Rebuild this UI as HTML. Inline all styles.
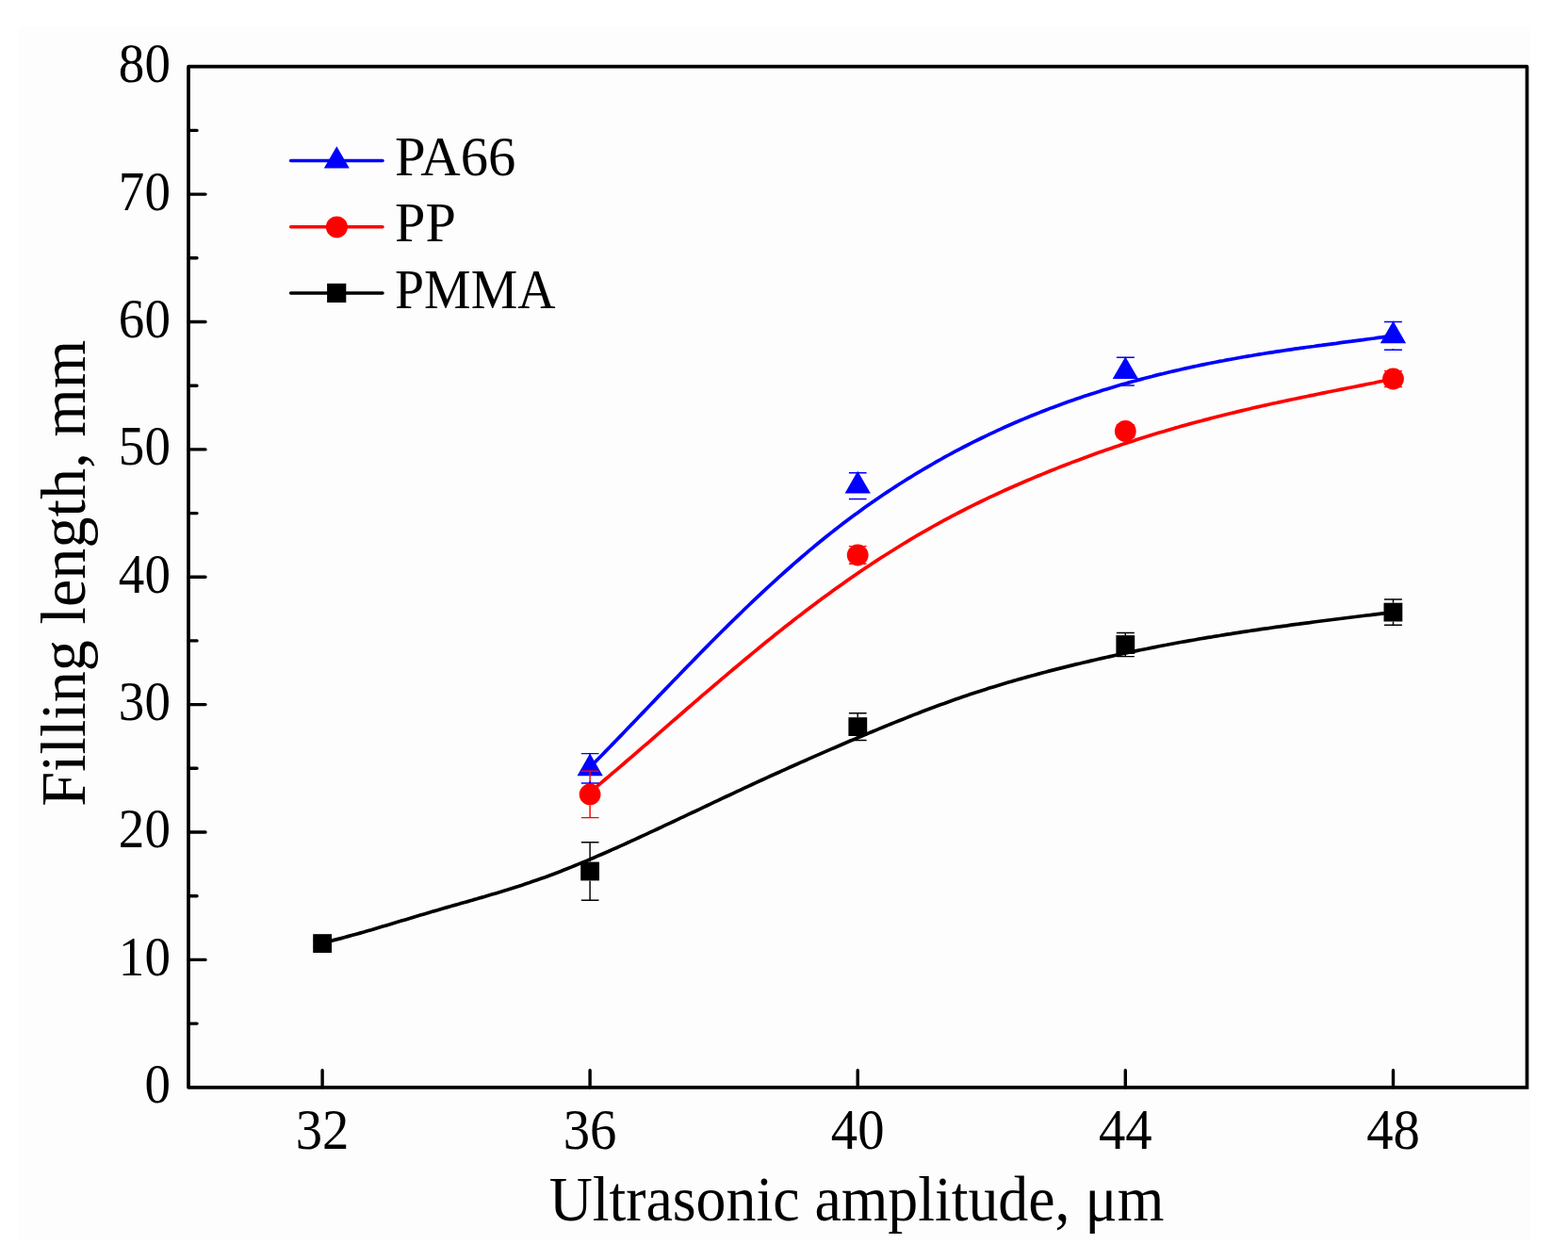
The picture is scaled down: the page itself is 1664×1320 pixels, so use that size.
<!DOCTYPE html>
<html><head><meta charset="utf-8"><title>Filling length vs ultrasonic amplitude</title>
<style>html,body{margin:0;padding:0;background:#fff;}svg{display:block;}</style></head>
<body>
<svg width="1664" height="1320" viewBox="0 0 1664 1320">
<rect x="0" y="0" width="1664" height="1320" fill="#ffffff"/>
<rect x="20" y="28" width="1604" height="1288" fill="#fdfdfd"/>
<path d="M626.3,814.0 L630.3,809.9 L634.3,805.8 L638.3,801.7 L642.3,797.6 L646.3,793.5 L650.3,789.4 L654.3,785.3 L658.3,781.1 L662.3,777.0 L666.3,772.8 L670.3,768.6 L674.3,764.5 L678.3,760.3 L682.3,756.1 L686.3,752.0 L690.3,747.8 L694.3,743.6 L698.3,739.4 L702.3,735.3 L706.3,731.1 L710.3,727.0 L714.3,722.8 L718.3,718.7 L722.3,714.5 L726.3,710.4 L730.3,706.3 L734.3,702.2 L738.3,698.1 L742.3,694.0 L746.3,689.9 L750.3,685.9 L754.3,681.8 L758.3,677.8 L762.3,673.8 L766.3,669.8 L770.3,665.9 L774.3,661.9 L778.3,658.0 L782.3,654.1 L786.3,650.2 L790.3,646.3 L794.3,642.5 L798.3,638.7 L802.3,634.9 L806.3,631.1 L810.3,627.4 L814.3,623.7 L818.3,620.0 L822.3,616.3 L826.3,612.7 L830.3,609.1 L834.3,605.5 L838.3,602.0 L842.3,598.4 L846.3,595.0 L850.3,591.5 L854.3,588.1 L858.3,584.7 L862.3,581.3 L866.3,578.0 L870.3,574.7 L874.3,571.5 L878.3,568.3 L882.3,565.1 L886.3,562.0 L890.3,558.9 L894.3,555.8 L898.3,552.8 L902.3,549.8 L906.3,546.8 L910.3,543.9 L914.3,541.0 L918.3,538.1 L922.3,535.3 L926.3,532.5 L930.3,529.7 L934.3,527.0 L938.3,524.3 L942.3,521.6 L946.3,519.0 L950.3,516.4 L954.3,513.8 L958.3,511.3 L962.3,508.7 L966.3,506.3 L970.3,503.8 L974.3,501.4 L978.3,499.0 L982.3,496.6 L986.3,494.3 L990.3,492.0 L994.3,489.7 L998.3,487.5 L1002.3,485.2 L1006.3,483.0 L1010.3,480.9 L1014.3,478.7 L1018.3,476.6 L1022.3,474.5 L1026.3,472.5 L1030.3,470.4 L1034.3,468.4 L1038.3,466.5 L1042.3,464.5 L1046.3,462.6 L1050.3,460.7 L1054.3,458.8 L1058.3,456.9 L1062.3,455.1 L1066.3,453.3 L1070.3,451.5 L1074.3,449.8 L1078.3,448.0 L1082.3,446.3 L1086.3,444.6 L1090.3,443.0 L1094.3,441.3 L1098.3,439.7 L1102.3,438.1 L1106.3,436.5 L1110.3,435.0 L1114.3,433.4 L1118.3,431.9 L1122.3,430.4 L1126.3,429.0 L1130.3,427.5 L1134.3,426.1 L1138.3,424.7 L1142.3,423.3 L1146.3,421.9 L1150.3,420.6 L1154.3,419.3 L1158.3,417.9 L1162.3,416.7 L1166.3,415.4 L1170.3,414.1 L1174.3,412.9 L1178.3,411.7 L1182.3,410.5 L1186.3,409.3 L1190.3,408.1 L1194.3,407.0 L1198.3,405.9 L1202.3,404.8 L1206.3,403.7 L1210.3,402.6 L1214.3,401.5 L1218.3,400.5 L1222.3,399.5 L1226.3,398.4 L1230.3,397.4 L1234.3,396.5 L1238.3,395.5 L1242.3,394.5 L1246.3,393.6 L1250.3,392.7 L1254.3,391.8 L1258.3,390.9 L1262.3,390.0 L1266.3,389.1 L1270.3,388.3 L1274.3,387.4 L1278.3,386.6 L1282.3,385.8 L1286.3,385.0 L1290.3,384.2 L1294.3,383.4 L1298.3,382.7 L1302.3,381.9 L1306.3,381.2 L1310.3,380.5 L1314.3,379.7 L1318.3,379.0 L1322.3,378.3 L1326.3,377.7 L1330.3,377.0 L1334.3,376.3 L1338.3,375.7 L1342.3,375.0 L1346.3,374.4 L1350.3,373.8 L1354.3,373.2 L1358.3,372.6 L1362.3,372.0 L1366.3,371.4 L1370.3,370.8 L1374.3,370.2 L1378.3,369.7 L1382.3,369.1 L1386.3,368.5 L1390.3,368.0 L1394.3,367.5 L1398.3,366.9 L1402.3,366.4 L1406.3,365.8 L1410.3,365.3 L1414.3,364.8 L1418.3,364.3 L1422.3,363.7 L1426.3,363.2 L1430.3,362.7 L1434.3,362.2 L1438.3,361.6 L1442.3,361.1 L1446.3,360.6 L1450.3,360.0 L1454.3,359.5 L1458.3,359.0 L1462.3,358.4 L1466.3,357.9 L1470.3,357.3 L1474.3,356.8 L1478.3,356.2 L1478.5,356.2" stroke="#0000ff" stroke-width="3.7" fill="none" stroke-linejoin="round"/>
<path d="M626.3,840.5 L630.3,837.2 L634.3,833.8 L638.3,830.4 L642.3,827.0 L646.3,823.6 L650.3,820.2 L654.3,816.8 L658.3,813.4 L662.3,810.0 L666.3,806.5 L670.3,803.1 L674.3,799.6 L678.3,796.2 L682.3,792.7 L686.3,789.3 L690.3,785.8 L694.3,782.3 L698.3,778.8 L702.3,775.4 L706.3,771.9 L710.3,768.4 L714.3,764.9 L718.3,761.5 L722.3,758.0 L726.3,754.5 L730.3,751.0 L734.3,747.6 L738.3,744.1 L742.3,740.7 L746.3,737.2 L750.3,733.8 L754.3,730.4 L758.3,727.0 L762.3,723.6 L766.3,720.2 L770.3,716.8 L774.3,713.4 L778.3,710.0 L782.3,706.7 L786.3,703.3 L790.3,700.0 L794.3,696.7 L798.3,693.4 L802.3,690.1 L806.3,686.8 L810.3,683.5 L814.3,680.3 L818.3,677.1 L822.3,673.8 L826.3,670.6 L830.3,667.5 L834.3,664.3 L838.3,661.2 L842.3,658.0 L846.3,654.9 L850.3,651.9 L854.3,648.8 L858.3,645.7 L862.3,642.7 L866.3,639.7 L870.3,636.7 L874.3,633.8 L878.3,630.9 L882.3,628.0 L886.3,625.1 L890.3,622.2 L894.3,619.4 L898.3,616.6 L902.3,613.8 L906.3,611.0 L910.3,608.3 L914.3,605.5 L918.3,602.8 L922.3,600.2 L926.3,597.5 L930.3,594.9 L934.3,592.3 L938.3,589.7 L942.3,587.2 L946.3,584.7 L950.3,582.2 L954.3,579.7 L958.3,577.2 L962.3,574.8 L966.3,572.4 L970.3,570.0 L974.3,567.7 L978.3,565.4 L982.3,563.1 L986.3,560.8 L990.3,558.5 L994.3,556.3 L998.3,554.1 L1002.3,551.9 L1006.3,549.8 L1010.3,547.7 L1014.3,545.6 L1018.3,543.5 L1022.3,541.5 L1026.3,539.4 L1030.3,537.4 L1034.3,535.4 L1038.3,533.5 L1042.3,531.5 L1046.3,529.6 L1050.3,527.7 L1054.3,525.8 L1058.3,524.0 L1062.3,522.1 L1066.3,520.3 L1070.3,518.5 L1074.3,516.7 L1078.3,515.0 L1082.3,513.2 L1086.3,511.5 L1090.3,509.8 L1094.3,508.1 L1098.3,506.4 L1102.3,504.7 L1106.3,503.1 L1110.3,501.5 L1114.3,499.8 L1118.3,498.2 L1122.3,496.6 L1126.3,495.1 L1130.3,493.5 L1134.3,492.0 L1138.3,490.4 L1142.3,488.9 L1146.3,487.4 L1150.3,485.9 L1154.3,484.5 L1158.3,483.0 L1162.3,481.5 L1166.3,480.1 L1170.3,478.7 L1174.3,477.3 L1178.3,475.9 L1182.3,474.5 L1186.3,473.2 L1190.3,471.8 L1194.3,470.5 L1198.3,469.2 L1202.3,467.9 L1206.3,466.6 L1210.3,465.3 L1214.3,464.0 L1218.3,462.8 L1222.3,461.5 L1226.3,460.3 L1230.3,459.1 L1234.3,457.9 L1238.3,456.7 L1242.3,455.6 L1246.3,454.4 L1250.3,453.3 L1254.3,452.1 L1258.3,451.0 L1262.3,449.9 L1266.3,448.8 L1270.3,447.7 L1274.3,446.7 L1278.3,445.6 L1282.3,444.6 L1286.3,443.5 L1290.3,442.5 L1294.3,441.5 L1298.3,440.5 L1302.3,439.5 L1306.3,438.5 L1310.3,437.6 L1314.3,436.6 L1318.3,435.6 L1322.3,434.7 L1326.3,433.8 L1330.3,432.8 L1334.3,431.9 L1338.3,431.0 L1342.3,430.1 L1346.3,429.2 L1350.3,428.3 L1354.3,427.5 L1358.3,426.6 L1362.3,425.7 L1366.3,424.9 L1370.3,424.0 L1374.3,423.2 L1378.3,422.4 L1382.3,421.5 L1386.3,420.7 L1390.3,419.9 L1394.3,419.1 L1398.3,418.2 L1402.3,417.4 L1406.3,416.6 L1410.3,415.8 L1414.3,415.0 L1418.3,414.2 L1422.3,413.4 L1426.3,412.6 L1430.3,411.8 L1434.3,411.0 L1438.3,410.2 L1442.3,409.4 L1446.3,408.6 L1450.3,407.8 L1454.3,407.0 L1458.3,406.2 L1462.3,405.3 L1466.3,404.5 L1470.3,403.7 L1474.3,402.9 L1478.3,402.0 L1478.5,402.0" stroke="#ff0000" stroke-width="3.7" fill="none" stroke-linejoin="round"/>
<path d="M342.0,1000.5 L346.0,999.6 L350.0,998.6 L354.0,997.6 L358.0,996.6 L362.0,995.6 L366.0,994.5 L370.0,993.4 L374.0,992.3 L378.0,991.2 L382.0,990.1 L386.0,989.0 L390.0,987.8 L394.0,986.7 L398.0,985.5 L402.0,984.3 L406.0,983.1 L410.0,981.9 L414.0,980.7 L418.0,979.5 L422.0,978.3 L426.0,977.1 L430.0,975.9 L434.0,974.7 L438.0,973.5 L442.0,972.3 L446.0,971.1 L450.0,969.9 L454.0,968.7 L458.0,967.5 L462.0,966.4 L466.0,965.2 L470.0,964.0 L474.0,962.9 L478.0,961.8 L482.0,960.6 L486.0,959.5 L490.0,958.3 L494.0,957.2 L498.0,956.1 L502.0,954.9 L506.0,953.8 L510.0,952.6 L514.0,951.5 L518.0,950.3 L522.0,949.1 L526.0,947.9 L530.0,946.7 L534.0,945.5 L538.0,944.3 L542.0,943.0 L546.0,941.7 L550.0,940.5 L554.0,939.2 L558.0,937.8 L562.0,936.5 L566.0,935.1 L570.0,933.7 L574.0,932.3 L578.0,930.9 L582.0,929.4 L586.0,927.9 L590.0,926.4 L594.0,924.9 L598.0,923.3 L602.0,921.7 L606.0,920.1 L610.0,918.5 L614.0,916.9 L618.0,915.2 L622.0,913.6 L626.0,911.9 L630.0,910.2 L634.0,908.4 L638.0,906.7 L642.0,905.0 L646.0,903.2 L650.0,901.4 L654.0,899.7 L658.0,897.9 L662.0,896.1 L666.0,894.3 L670.0,892.4 L674.0,890.6 L678.0,888.8 L682.0,886.9 L686.0,885.1 L690.0,883.2 L694.0,881.4 L698.0,879.5 L702.0,877.6 L706.0,875.7 L710.0,873.9 L714.0,872.0 L718.0,870.1 L722.0,868.2 L726.0,866.3 L730.0,864.4 L734.0,862.5 L738.0,860.7 L742.0,858.8 L746.0,856.9 L750.0,855.0 L754.0,853.1 L758.0,851.2 L762.0,849.3 L766.0,847.4 L770.0,845.5 L774.0,843.7 L778.0,841.8 L782.0,839.9 L786.0,838.1 L790.0,836.2 L794.0,834.3 L798.0,832.5 L802.0,830.6 L806.0,828.8 L810.0,827.0 L814.0,825.1 L818.0,823.3 L822.0,821.5 L826.0,819.7 L830.0,817.9 L834.0,816.1 L838.0,814.3 L842.0,812.5 L846.0,810.7 L850.0,808.9 L854.0,807.2 L858.0,805.4 L862.0,803.6 L866.0,801.9 L870.0,800.1 L874.0,798.4 L878.0,796.6 L882.0,794.9 L886.0,793.2 L890.0,791.5 L894.0,789.7 L898.0,788.0 L902.0,786.3 L906.0,784.6 L910.0,782.9 L914.0,781.2 L918.0,779.6 L922.0,777.9 L926.0,776.2 L930.0,774.6 L934.0,772.9 L938.0,771.3 L942.0,769.6 L946.0,768.0 L950.0,766.4 L954.0,764.8 L958.0,763.2 L962.0,761.6 L966.0,760.0 L970.0,758.4 L974.0,756.9 L978.0,755.3 L982.0,753.8 L986.0,752.3 L990.0,750.8 L994.0,749.3 L998.0,747.8 L1002.0,746.4 L1006.0,744.9 L1010.0,743.5 L1014.0,742.1 L1018.0,740.7 L1022.0,739.3 L1026.0,737.9 L1030.0,736.6 L1034.0,735.3 L1038.0,734.0 L1042.0,732.7 L1046.0,731.4 L1050.0,730.1 L1054.0,728.9 L1058.0,727.7 L1062.0,726.5 L1066.0,725.3 L1070.0,724.1 L1074.0,722.9 L1078.0,721.8 L1082.0,720.6 L1086.0,719.5 L1090.0,718.4 L1094.0,717.3 L1098.0,716.2 L1102.0,715.1 L1106.0,714.0 L1110.0,713.0 L1114.0,711.9 L1118.0,710.9 L1122.0,709.9 L1126.0,708.9 L1130.0,707.9 L1134.0,706.9 L1138.0,705.9 L1142.0,704.9 L1146.0,704.0 L1150.0,703.0 L1154.0,702.1 L1158.0,701.1 L1162.0,700.2 L1166.0,699.3 L1170.0,698.4 L1174.0,697.5 L1178.0,696.6 L1182.0,695.7 L1186.0,694.8 L1190.0,694.0 L1194.0,693.1 L1198.0,692.3 L1202.0,691.4 L1206.0,690.6 L1210.0,689.8 L1214.0,689.0 L1218.0,688.2 L1222.0,687.4 L1226.0,686.6 L1230.0,685.8 L1234.0,685.0 L1238.0,684.3 L1242.0,683.5 L1246.0,682.8 L1250.0,682.0 L1254.0,681.3 L1258.0,680.6 L1262.0,679.9 L1266.0,679.2 L1270.0,678.5 L1274.0,677.8 L1278.0,677.1 L1282.0,676.4 L1286.0,675.8 L1290.0,675.1 L1294.0,674.5 L1298.0,673.8 L1302.0,673.2 L1306.0,672.6 L1310.0,671.9 L1314.0,671.3 L1318.0,670.7 L1322.0,670.1 L1326.0,669.5 L1330.0,668.9 L1334.0,668.3 L1338.0,667.7 L1342.0,667.1 L1346.0,666.6 L1350.0,666.0 L1354.0,665.4 L1358.0,664.9 L1362.0,664.3 L1366.0,663.8 L1370.0,663.2 L1374.0,662.7 L1378.0,662.2 L1382.0,661.6 L1386.0,661.1 L1390.0,660.6 L1394.0,660.0 L1398.0,659.5 L1402.0,659.0 L1406.0,658.5 L1410.0,658.0 L1414.0,657.5 L1418.0,657.0 L1422.0,656.5 L1426.0,656.0 L1430.0,655.5 L1434.0,655.0 L1438.0,654.5 L1442.0,654.0 L1446.0,653.5 L1450.0,653.0 L1454.0,652.6 L1458.0,652.1 L1462.0,651.6 L1466.0,651.1 L1470.0,650.6 L1474.0,650.1 L1478.0,649.7 L1478.5,649.6" stroke="#000000" stroke-width="3.7" fill="none" stroke-linejoin="round"/>
<path d="M626.1,799.6L639.8,823.2L612.5,823.2Z" fill="#0000ff"/>
<path d="M910.2,499.8L923.9,523.5L896.6,523.5Z" fill="#0000ff"/>
<path d="M1194.3,378.4L1208.0,402.0L1180.7,402.0Z" fill="#0000ff"/>
<path d="M1478.5,340.6L1492.1,364.2L1464.8,364.2Z" fill="#0000ff"/>
<circle cx="626.1" cy="843.0" r="11.40" fill="#ff0000"/>
<circle cx="910.2" cy="589.0" r="11.40" fill="#ff0000"/>
<circle cx="1194.3" cy="457.5" r="11.40" fill="#ff0000"/>
<circle cx="1478.5" cy="402.0" r="11.40" fill="#ff0000"/>
<rect x="332.2" y="991.2" width="19.8" height="19.8" fill="#000000"/>
<rect x="616.2" y="914.6" width="19.8" height="19.8" fill="#000000"/>
<rect x="900.4" y="761.2" width="19.8" height="19.8" fill="#000000"/>
<rect x="1184.4" y="674.1" width="19.8" height="19.8" fill="#000000"/>
<rect x="1468.5" y="639.7" width="19.8" height="19.8" fill="#000000"/>
<path d="M332.7,997.0H351.4M332.7,1005.1H351.4" stroke="#000000" stroke-width="1.45" fill="none"/>
<path d="M616.8,893.7H635.5M616.8,955.2H635.5M626.1,893.7V914.6M626.1,934.4V955.2" stroke="#000000" stroke-width="1.45" fill="none"/>
<path d="M900.9,756.7H919.6M900.9,785.4H919.6M910.2,756.7V761.2M910.2,781.0V785.4" stroke="#000000" stroke-width="1.45" fill="none"/>
<path d="M1184.9,671.4H1203.8M1184.9,696.6H1203.8M1194.3,671.4V674.1M1194.3,693.9V696.6" stroke="#000000" stroke-width="1.45" fill="none"/>
<path d="M1469.0,635.9H1487.9M1469.0,663.3H1487.9M1478.5,635.9V639.7M1478.5,659.5V663.3" stroke="#000000" stroke-width="1.45" fill="none"/>
<path d="M616.8,818.3H635.5M616.8,867.6H635.5M626.1,818.3V831.6M626.1,854.4V867.6" stroke="#ff0000" stroke-width="1.45" fill="none"/>
<path d="M900.9,579.6H919.6M900.9,598.3H919.6" stroke="#ff0000" stroke-width="1.45" fill="none"/>
<path d="M1184.9,450.7H1203.8M1184.9,464.3H1203.8" stroke="#ff0000" stroke-width="1.45" fill="none"/>
<path d="M1469.0,393.6H1487.9M1469.0,410.4H1487.9" stroke="#ff0000" stroke-width="1.45" fill="none"/>
<path d="M616.8,799.6H635.5M616.8,831.0H635.5M626.1,799.6V801.8M626.1,828.8V831.0" stroke="#0000ff" stroke-width="1.45" fill="none"/>
<path d="M900.9,501.8H919.6M900.9,529.4H919.6M910.2,501.8V502.1M910.2,529.1V529.4" stroke="#0000ff" stroke-width="1.45" fill="none"/>
<path d="M1184.9,379.2H1203.8M1184.9,409.0H1203.8M1194.3,379.2V380.6M1194.3,407.6V409.0" stroke="#0000ff" stroke-width="1.45" fill="none"/>
<path d="M1469.0,341.5H1487.9M1469.0,371.3H1487.9M1478.5,341.5V342.9M1478.5,369.9V371.3" stroke="#0000ff" stroke-width="1.45" fill="none"/>
<path d="M1620.5,1153.8H200.0V70.7H1620.5V1153.8" stroke="#000" stroke-width="3.7" fill="none" stroke-linejoin="round" stroke-linecap="square"/>
<path d="M200.0,1018.4H218.0M200.0,883.0H218.0M200.0,747.6H218.0M200.0,612.2H218.0M200.0,476.9H218.0M200.0,341.5H218.0M200.0,206.1H218.0M200.0,1086.1H209.0M200.0,950.7H209.0M200.0,815.3H209.0M200.0,679.9H209.0M200.0,544.6H209.0M200.0,409.2H209.0M200.0,273.8H209.0M200.0,138.4H209.0M342.1,1153.8V1135.8M626.1,1153.8V1135.8M910.2,1153.8V1135.8M1194.3,1153.8V1135.8M1478.5,1153.8V1135.8" stroke="#000" stroke-width="3.4" stroke-linecap="round" fill="none"/>
<g font-family="'Liberation Serif', 'Times New Roman', serif" font-size="58.8" fill="#000"><text transform="translate(180.9,1170.2) scale(0.936,1)" text-anchor="end">0</text><text transform="translate(180.9,1034.8) scale(0.936,1)" text-anchor="end">10</text><text transform="translate(180.9,899.4) scale(0.936,1)" text-anchor="end">20</text><text transform="translate(180.9,764.0) scale(0.936,1)" text-anchor="end">30</text><text transform="translate(180.9,628.6) scale(0.936,1)" text-anchor="end">40</text><text transform="translate(180.9,493.3) scale(0.936,1)" text-anchor="end">50</text><text transform="translate(180.9,357.9) scale(0.936,1)" text-anchor="end">60</text><text transform="translate(180.9,222.5) scale(0.936,1)" text-anchor="end">70</text><text transform="translate(180.9,87.1) scale(0.936,1)" text-anchor="end">80</text></g>
<g font-family="'Liberation Serif', 'Times New Roman', serif" font-size="60.3" fill="#000"><text transform="translate(342.1,1218.8) scale(0.94,1)" text-anchor="middle">32</text><text transform="translate(626.1,1218.8) scale(0.94,1)" text-anchor="middle">36</text><text transform="translate(910.2,1218.8) scale(0.94,1)" text-anchor="middle">40</text><text transform="translate(1194.3,1218.8) scale(0.94,1)" text-anchor="middle">44</text><text transform="translate(1478.5,1218.8) scale(0.94,1)" text-anchor="middle">48</text></g>
<text transform="translate(909,1294.5) scale(0.9456,1)" text-anchor="middle" font-family="'Liberation Serif', 'Times New Roman', serif" font-size="67.5" fill="#000">Ultrasonic amplitude, μm</text>
<text transform="translate(89.5,608.2) rotate(-90) scale(0.989,1)" text-anchor="middle" font-family="'Liberation Serif', 'Times New Roman', serif" font-size="67" fill="#000">Filling length, mm</text>
<path d="M308.6,170.5H406" stroke="#0000ff" stroke-width="3.5" stroke-linecap="round"/><path d="M357.3,155.2L370.8,178.6L343.8,178.6Z" fill="#0000ff"/><text transform="translate(419.1,185.9) scale(1.008,1)" font-family="'Liberation Serif', 'Times New Roman', serif" font-size="58.2" fill="#000">PA66</text><path d="M308.6,240.7H406" stroke="#ff0000" stroke-width="3.5" stroke-linecap="round"/><circle cx="357.4" cy="240.9" r="11.50" fill="#ff0000"/><text transform="translate(419.1,256.3) scale(1.0,1)" font-family="'Liberation Serif', 'Times New Roman', serif" font-size="58.2" fill="#000">PP</text><path d="M308.6,310.9H406" stroke="#000000" stroke-width="3.5" stroke-linecap="round"/><rect x="347.1" y="300.8" width="20.2" height="20.2" fill="#000000"/><text transform="translate(419.1,326.7) scale(0.958,1)" font-family="'Liberation Serif', 'Times New Roman', serif" font-size="58.2" fill="#000">PMMA</text>
</svg>
</body></html>
